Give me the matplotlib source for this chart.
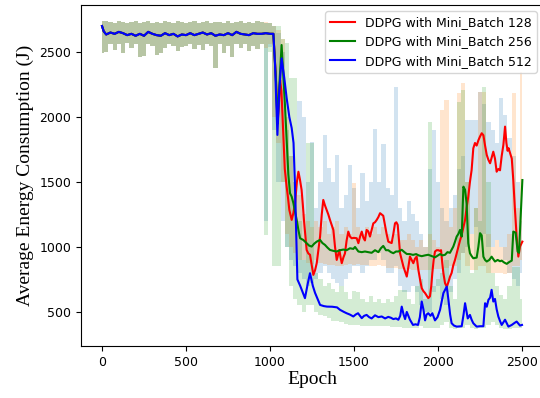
import matplotlib
matplotlib.use("Agg")
import matplotlib.pyplot as plt
import numpy as np

# Raw (light) curves: per 25-epoch bin, low and high envelope
raw_epochs = list(range(0, 2501, 25))

flat_hi = [2740, 2735, 2730, 2725, 2735, 2730, 2720, 2730, 2735, 2725,
           2730, 2735, 2725, 2730, 2720, 2735, 2730, 2725, 2735, 2730,
           2725, 2730, 2735, 2720, 2730, 2735, 2725, 2730, 2730, 2720,
           2735, 2725, 2730, 2735, 2720, 2730, 2725, 2735, 2730]
flat_lo = [2490, 2500, 2560, 2515, 2560, 2490, 2570, 2530, 2560, 2465,
           2470, 2560, 2550, 2480, 2490, 2530, 2560, 2550, 2505, 2540,
           2545, 2560, 2520, 2555, 2515, 2560, 2550, 2375, 2560, 2490,
           2550, 2465, 2560, 2530, 2560, 2505, 2550, 2520, 2560]

# from epoch 975 on
raw128_hi = [2725, 2720, 2700, 2650, 2500, 1900, 1700, 1500, 2120, 2000, 1500,
             1810, 1300, 1500, 1860, 1610, 1500, 1710, 1300, 1400, 1630,
             1450, 1300, 1570, 1350, 1500, 1910, 1500, 1790, 1450, 1400,
             2230, 1300, 1200, 1350, 1250, 1200, 1100, 1000, 1600, 1900,
             1500, 1300, 1200, 1300, 1400, 1600, 1700, 1980, 1980, 1980,
             2190, 2100, 1960, 1900, 1800, 2146, 2015, 1838, 1700, 1500, 1200]
raw128_lo = [1200, 2540, 1900, 1500, 1200, 1000, 900, 850, 800, 750, 700,
             720, 750, 800, 850, 800, 750, 720, 700, 750, 800,
             850, 850, 800, 850, 900, 900, 950, 900, 800, 800,
             850, 700, 650, 650, 700, 650, 550, 500, 500, 650,
             700, 600, 550, 650, 750, 800, 950, 1000, 1100, 1150,
             1050, 1100, 1000, 1000, 1050, 1000, 900, 800, 750, 700, 800]

raw256_hi = [2730, 2720, 2700, 2670, 2600, 2000, 1700, 1500, 1400, 1250, 1200,
             1150, 1200, 1150, 1200, 1100, 1150, 1200, 1100, 1150, 1100,
             1490, 1150, 1100, 1150, 1100, 1150, 1100, 1150, 1100, 1050,
             1100, 1050, 1050, 1100, 1050, 1000, 1050, 1000, 1100, 1050,
             1000, 2050, 2130, 1150, 1300, 2185, 2260, 1500, 1100, 1300,
             2190, 2190, 1100, 1000, 1050, 1000, 1000, 1100, 2185, 1300, 2346]
raw256_lo = [2530, 2560, 2000, 1800, 1500, 1100, 1000, 950, 900, 900, 880,
             870, 900, 880, 870, 860, 860, 850, 850, 860, 870,
             860, 870, 860, 860, 850, 850, 860, 850, 840, 840,
             840, 830, 830, 830, 820, 820, 820, 820, 820, 830,
             830, 830, 840, 850, 850, 900, 950, 850, 820, 820,
             850, 850, 800, 800, 800, 800, 790, 800, 850, 850, 900]

raw512_hi = [2725, 2720, 2700, 2700, 2600, 2570, 2300, 2300, 1200, 900, 1800,
             1800, 800, 750, 700, 720, 680, 650, 700, 650, 600,
             660, 650, 600, 580, 620, 580, 600, 570, 600, 580,
             620, 670, 670, 600, 560, 700, 750, 600, 1964, 700,
             750, 800, 900, 700, 600, 2115, 2208, 1500, 800, 1300,
             1200, 2230, 1500, 800, 700, 631, 600, 700, 849, 849, 600]
raw512_lo = [1090, 2500, 850, 850, 1500, 1000, 700, 600, 550, 500, 550,
             550, 500, 480, 470, 450, 430, 430, 420, 410, 400,
             400, 400, 390, 390, 390, 390, 390, 390, 390, 385,
             385, 385, 380, 380, 380, 380, 390, 380, 380, 380,
             380, 400, 420, 380, 370, 380, 380, 400, 380, 370,
             380, 380, 400, 420, 400, 380, 370, 370, 380, 380, 380]

# Smoothed curves: common plateau, then each run's own tail
flat_ep = [0, 10, 25, 50, 75, 100, 125, 150, 175, 200, 225, 250, 275, 300,
           325, 350, 375, 400, 425, 450, 475, 500, 525, 550, 575, 600, 625,
           650, 675, 700, 725, 750, 775, 800, 825, 850, 875, 900, 925, 950,
           975, 1000, 1020]
flat_val = [2700, 2660, 2635, 2650, 2640, 2655, 2645, 2630, 2640, 2625, 2640,
            2625, 2655, 2640, 2630, 2625, 2645, 2630, 2640, 2620, 2635, 2630,
            2645, 2630, 2640, 2650, 2635, 2645, 2625, 2635, 2630, 2645, 2630,
            2655, 2640, 2635, 2630, 2645, 2640, 2640, 2645, 2640, 2640]

ep128 = [1035, 1045, 1053, 1060, 1068, 1078, 1088, 1099, 1107, 1115, 1129,
         1139, 1149, 1160, 1169, 1178, 1188, 1195, 1202, 1210, 1218, 1228,
         1238, 1248, 1258, 1268, 1278, 1288, 1298, 1308, 1317, 1327, 1337,
         1347, 1357, 1367, 1377, 1387, 1397, 1405, 1413, 1420, 1427, 1437,
         1446, 1456, 1466, 1476, 1486, 1500, 1516, 1526, 1536, 1546, 1556,
         1565, 1575, 1585, 1595, 1605, 1615, 1625, 1635, 1645, 1655, 1665,
         1674, 1684, 1694, 1704, 1714, 1724, 1734, 1744, 1752, 1760, 1767,
         1774, 1784, 1794, 1804, 1814, 1824, 1833, 1843, 1853, 1863, 1873,
         1883, 1893, 1903, 1913, 1923, 1933, 1942, 1952, 1960, 1966, 1974,
         1982, 1992, 2002, 2010, 2018, 2025, 2032, 2042, 2052, 2062, 2071,
         2081, 2091, 2101, 2111, 2121, 2131, 2141, 2151, 2161, 2170, 2180,
         2190, 2200, 2210, 2220, 2230, 2240, 2250, 2260, 2270, 2280, 2290,
         2300, 2310, 2320, 2329, 2339, 2349, 2359, 2369, 2379, 2389, 2399,
         2407, 2414, 2420, 2429, 2439, 2448, 2458, 2468, 2478, 2488, 2502]
val128 = [2300, 1950, 2100, 2285, 2200, 1900, 1600, 1464, 1380, 1285, 1208,
          1260, 1338, 1500, 1579, 1520, 1439, 1330, 1208, 1090, 977, 950,
          940, 860, 785, 820, 875, 980, 1080, 1250, 1362, 1320, 1285,
          1250, 1208, 1170, 1131, 1000, 900, 940, 977, 920, 875, 920,
          950, 1050, 1118, 1080, 1067, 1070, 1067, 1029, 1080, 1118, 1070,
          1050, 1131, 1120, 1080, 1130, 1182, 1190, 1208, 1230, 1260, 1250,
          1240, 1170, 1100, 1041, 1035, 1030, 1100, 1182, 1190, 1170, 1060,
          952, 900, 849, 810, 772, 850, 926, 900, 875, 910, 926,
          824, 750, 683, 660, 645, 625, 606, 620, 700, 798, 900,
          965, 975, 975, 970, 975, 880, 798, 720, 695, 730, 770,
          800, 860, 900, 950, 1003, 1050, 1093, 1150, 1208, 1300, 1387,
          1500, 1592, 1759, 1800, 1780, 1820, 1850, 1875, 1860, 1780, 1708,
          1670, 1644, 1690, 1733, 1680, 1579, 1600, 1590, 1700, 1785, 1926,
          1800, 1740, 1760, 1721, 1680, 1515, 1285, 1080, 926, 1003, 1041]

ep256 = [1035, 1045, 1058, 1069, 1078, 1089, 1100, 1109, 1119, 1129, 1139,
         1149, 1159, 1169, 1179, 1198, 1218, 1233, 1248, 1263, 1278, 1298,
         1312, 1327, 1342, 1357, 1377, 1397, 1417, 1437, 1456, 1476, 1496,
         1506, 1526, 1546, 1565, 1585, 1605, 1625, 1645, 1660, 1674, 1690,
         1704, 1720, 1734, 1750, 1764, 1784, 1800, 1814, 1833, 1851, 1870,
         1885, 1903, 1922, 1942, 1962, 1982, 2000, 2012, 2027, 2042, 2056,
         2071, 2091, 2101, 2111, 2121, 2131, 2141, 2151, 2161, 2170, 2180,
         2190, 2200, 2210, 2230, 2240, 2250, 2260, 2270, 2280, 2290, 2305,
         2319, 2330, 2339, 2355, 2369, 2379, 2394, 2409, 2425, 2439, 2448,
         2462, 2474, 2482, 2494, 2502]
val256 = [2300, 1950, 2300, 2554, 2350, 2092, 1800, 1560, 1413, 1387, 1338,
          1270, 1208, 1130, 1067, 1054, 1029, 1010, 1003, 1025, 1041, 1054,
          1030, 1016, 995, 977, 970, 965, 975, 980, 975, 990, 985,
          1000, 965, 960, 965, 960, 955, 975, 960, 990, 1008, 975,
          975, 960, 952, 965, 965, 978, 960, 946, 945, 939, 945,
          935, 929, 935, 940, 930, 920, 935, 945, 935, 940, 960,
          955, 1003, 1040, 1080, 1100, 1131, 1080, 1464, 1440, 1336, 1029,
          952, 930, 913, 918, 1000, 1106, 1090, 925, 900, 888, 900,
          925, 905, 888, 900, 890, 895, 880, 870, 885, 895, 1118,
          1110, 965, 955, 1300, 1515]

ep512 = [1030, 1044, 1055, 1069, 1085, 1099, 1115, 1129, 1140, 1148, 1163,
         1180, 1195, 1208, 1225, 1238, 1255, 1268, 1283, 1298, 1320, 1339,
         1370, 1399, 1417, 1440, 1456, 1475, 1496, 1510, 1524, 1546, 1560,
         1575, 1590, 1605, 1625, 1645, 1665, 1685, 1704, 1720, 1734, 1750,
         1764, 1775, 1784, 1795, 1804, 1814, 1833, 1851, 1866, 1881, 1892,
         1903, 1913, 1923, 1932, 1942, 1955, 1966, 1982, 1997, 2012, 2032,
         2052, 2062, 2072, 2081, 2095, 2111, 2141, 2152, 2161, 2170, 2177,
         2190, 2200, 2210, 2230, 2250, 2270, 2280, 2290, 2300, 2310, 2319,
         2329, 2339, 2349, 2359, 2369, 2379, 2389, 2399, 2419, 2439, 2455,
         2468, 2478, 2488, 2500]
val512 = [2400, 1862, 2200, 2451, 2300, 2146, 2000, 1915, 1800, 1500, 750,
          700, 650, 606, 720, 798, 700, 647, 600, 554, 545, 541,
          540, 535, 516, 500, 490, 480, 465, 480, 490, 452, 470,
          477, 460, 450, 474, 460, 465, 450, 462, 455, 445, 450,
          440, 470, 541, 480, 445, 500, 440, 400, 405, 400, 460,
          580, 520, 435, 480, 490, 470, 490, 435, 460, 516, 645,
          695, 593, 480, 413, 395, 387, 390, 480, 567, 500, 450,
          477, 440, 413, 387, 390, 390, 567, 540, 593, 610, 670,
          580, 600, 520, 465, 430, 400, 420, 440, 387, 400, 415,
          426, 410, 395, 400]

plt.rcParams["font.size"] = 9
fig = plt.figure(figsize=(5.4, 3.98), dpi=100)
ax = fig.add_axes([0.15, 0.1307, 0.8556, 0.8568])

x_raw = np.array(raw_epochs)
raws = [(flat_lo + raw128_lo, flat_hi + raw128_hi, "C0"),
        (flat_lo + raw256_lo, flat_hi + raw256_hi, "C1"),
        (flat_lo + raw512_lo, flat_hi + raw512_hi, "C2")]
for lo, hi, c in raws:
    ax.fill_between(x_raw, lo, hi, step="mid", color=c, alpha=0.2, linewidth=0)

ax.plot(flat_ep + ep128, flat_val + val128, color="r", lw=1.5, label="DDPG with Mini_Batch 128")
ax.plot(flat_ep + ep256, flat_val + val256, color="g", lw=1.5, label="DDPG with Mini_Batch 256")
ax.plot(flat_ep + ep512, flat_val + val512, color="b", lw=1.5, label="DDPG with Mini_Batch 512")

ax.set_xlim(-125, 2625)
ax.set_ylim(238, 2862)
ax.set_xticks([0, 500, 1000, 1500, 2000, 2500])
ax.set_yticks([500, 1000, 1500, 2000, 2500])
ax.set_xlabel("Epoch", family="Liberation Serif", fontsize=14, labelpad=2)
ax.set_ylabel("Average Energy Consumption (J)", family="Liberation Serif", fontsize=14)
ax.legend(loc="upper right", fontsize=9)

fig.savefig("out.png", dpi=100)
